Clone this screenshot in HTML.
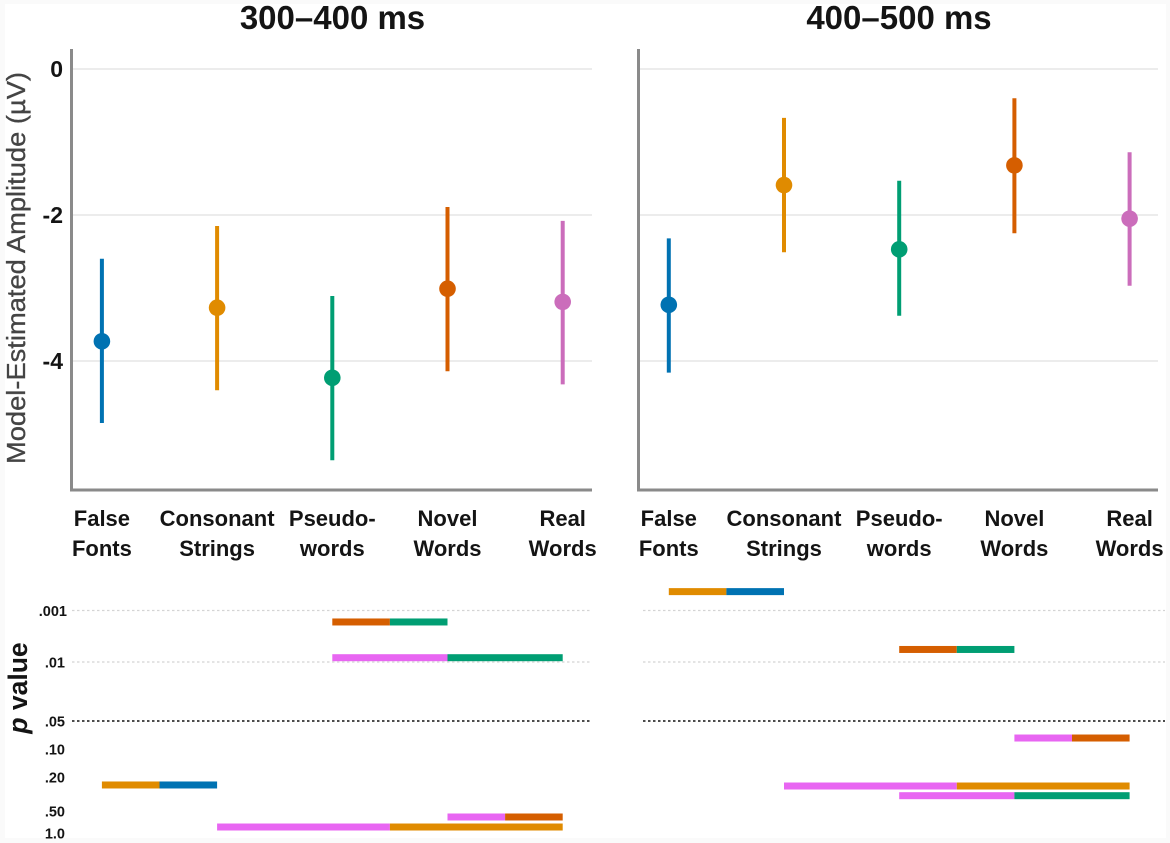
<!DOCTYPE html>
<html lang="en">
<head>
<meta charset="utf-8">
<title>Model-estimated amplitude and p values</title>
<style>
html,body{margin:0;padding:0;background:#fafafa;width:1170px;height:843px;overflow:hidden}
svg{display:block;position:absolute;left:0;top:0}
text{font-family:"Liberation Sans",sans-serif;fill:#141414}
.title{font-size:33px;font-weight:bold;text-anchor:middle}
.cat{font-size:22px;font-weight:bold;text-anchor:middle}
.ytick{font-size:23px;font-weight:bold;text-anchor:end}
.ptick{font-size:14.5px;font-weight:bold;text-anchor:end}
.ylab{font-size:26px;fill:#444;stroke:#444;stroke-width:.3px;text-anchor:middle}
.plab{font-size:26.5px;font-weight:bold;text-anchor:middle}
</style>
</head>
<body>
<svg id="fig" width="1170" height="843" viewBox="0 0 1170 843" xmlns="http://www.w3.org/2000/svg">
<rect x="5" y="4" width="1161" height="834" fill="#ffffff"/>
</svg>
<script>
const panelTitles = ['300–400 ms', '400–500 ms'];
const categories = [['False', 'Fonts'], ['Consonant', 'Strings'], ['Pseudo-', 'words'], ['Novel', 'Words'], ['Real', 'Words']];
const categoryColors = ['#0072b2', '#e08b00', '#009e73', '#d55e00', '#cb6dbb'];
const amplitudeTicks = [0, -2, -4];
const pTickLabels = ['.001', '.01', '.05', '.10', '.20', '.50', '1.0'];
const pTickValues = [0.001, 0.01, 0.05, 0.10, 0.20, 0.50, 1.0];

const means300 = [-3.73, -3.27, -4.23, -3.01, -3.19];
const lower300 = [-4.85, -4.40, -5.36, -4.14, -4.32];
const upper300 = [-2.60, -2.15, -3.11, -1.89, -2.08];
const means400 = [-3.23, -1.59, -2.47, -1.32, -2.05];
const lower400 = [-4.16, -2.51, -3.38, -2.25, -2.97];
const upper400 = [-2.32, -0.67, -1.53, -0.40, -1.14];

/* pairwise comparisons: first category index, second category index, p value */
const comparisonFirst300 = [2, 2, 0, 1, 3];
const comparisonSecond300 = [3, 4, 1, 4, 4];
const comparisonP300 = [0.00167, 0.00825, 0.248, 0.828, 0.604];
const comparisonFirst400 = [0, 2, 3, 1, 2];
const comparisonSecond400 = [1, 3, 4, 4, 4];
const comparisonP400 = [0.00043, 0.00571, 0.0762, 0.255, 0.331];

const svg = document.getElementById('fig');
const NS = 'http://www.w3.org/2000/svg';
function mk(tag, attrs, text) {
  const el = document.createElementNS(NS, tag);
  for (const k in attrs) el.setAttribute(k, attrs[k]);
  if (text !== undefined) el.textContent = text;
  svg.appendChild(el);
  return el;
}
const pinkBar = '#e866f2';
function yAmp(v) { return 69 - 73 * v; }
function xCat(panel, i) { return (panel === 0 ? 101.9 : 668.8) + i * 115.2; }
/* p axis: log-interpolated between tick stops (the original axis is non-uniform) */
function yP(p) {
  const stops = [610.5, 662, 721, 749, 777, 811, 833];
  const lg = Math.log10(p);
  let k = 0;
  while (k < pTickValues.length - 2 && lg > Math.log10(pTickValues[k + 1])) k++;
  const a = Math.log10(pTickValues[k]);
  const b = Math.log10(pTickValues[k + 1]);
  return stops[k] + (lg - a) / (b - a) * (stops[k + 1] - stops[k]);
}

function drawPanel(panel, means, lower, upper, cFirst, cSecond, cP) {
  const axisX = panel === 0 ? 71.5 : 638.5;
  const gridEnd = panel === 0 ? 592 : 1158;
  const pStart = panel === 0 ? 72 : 643;
  const pEnd = panel === 0 ? 592 : 1165;

  const title = mk('text', {x: panel === 0 ? 332.5 : 899, y: 29, class: 'title'}, panelTitles[panel]);
  
  

  amplitudeTicks.forEach(function (t) {
    const g = mk('line', {x1: axisX + 1.5, x2: gridEnd, y1: yAmp(t), y2: yAmp(t), stroke: '#ececec', 'stroke-width': 2});
    
    
    if (panel === 0) {
      const lab = mk('text', {x: 63, y: yAmp(t) + 8, class: 'ytick'}, String(t));
      
      
    }
  });

  const yAxis = mk('line', {x1: axisX, x2: axisX, y1: 49, y2: 490, stroke: '#8a8a8a', 'stroke-width': 3});
  
  
  const xAxis = mk('line', {x1: axisX - 1.5, x2: gridEnd, y1: 490, y2: 490, stroke: '#8a8a8a', 'stroke-width': 3});
  
  

  categories.forEach(function (lines, i) {
    const x = xCat(panel, i);
    const l1 = mk('text', {x: x, y: 526, class: 'cat'}, lines[0]);
    
    
    const l2 = mk('text', {x: x, y: 556, class: 'cat'}, lines[1]);
    
    

    const ci = mk('line', {x1: x, x2: x, y1: yAmp(upper[i]), y2: yAmp(lower[i]), stroke: categoryColors[i], 'stroke-width': 4});
    
    
    const pt = mk('circle', {cx: x, cy: yAmp(means[i]), r: 8.3, fill: categoryColors[i]});
    
    
  });

  pTickValues.forEach(function (p, i) {
    const y = yP(p);
    if (p === 0.001 || p === 0.01) {
      const d = mk('line', {x1: pStart, x2: pEnd, y1: y, y2: y, stroke: '#d4d4d4', 'stroke-width': 1.3, 'stroke-dasharray': '2.5 2.5'});
      
      
    }
    if (p === 0.05) {
      const d = mk('line', {x1: pStart, x2: pEnd, y1: y, y2: y, stroke: '#111', 'stroke-width': 1.6, 'stroke-dasharray': '2.5 2.5'});
      
      
    }
    if (panel === 0) {
      const lab = mk('text', {x: p === 0.001 ? 67 : 65, y: y + 5.5, class: 'ptick'}, pTickLabels[i]);
      
      
    }
  });

  cP.forEach(function (p, k) {
    const a = xCat(panel, cFirst[k]);
    const b = xCat(panel, cSecond[k]);
    const mid = (a + b) / 2;
    const y = yP(p);
    const secondColor = cSecond[k] === 4 ? pinkBar : categoryColors[cSecond[k]];
    const left = mk('rect', {x: a, y: y - 3.5, width: mid - a, height: 7, fill: secondColor});
    
    
    const right = mk('rect', {x: mid, y: y - 3.5, width: b - mid, height: 7, fill: categoryColors[cFirst[k]]});
    
    
  });
}

drawPanel(0, means300, lower300, upper300, comparisonFirst300, comparisonSecond300, comparisonP300);
drawPanel(1, means400, lower400, upper400, comparisonFirst400, comparisonSecond400, comparisonP400);

const yTitle = mk('text', {class: 'ylab', transform: 'translate(25 268) rotate(-90)', textLength: 392, lengthAdjust: 'spacingAndGlyphs'}, 'Model-Estimated Amplitude (µV)');



const pTitle = mk('text', {class: 'plab', transform: 'translate(27 688) rotate(-90)'});


const pItalic = document.createElementNS(NS, 'tspan');
pItalic.setAttribute('font-style', 'italic');
pItalic.textContent = 'p';
pTitle.appendChild(pItalic);
pTitle.appendChild(document.createTextNode(' value'));
</script>
</body>
</html>
